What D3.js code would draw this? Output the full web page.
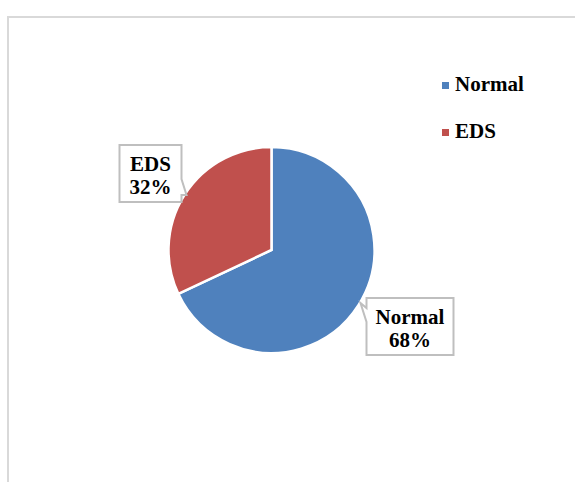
<!DOCTYPE html>
<html>
<head>
<meta charset="utf-8">
<script src="https://cdn.jsdelivr.net/npm/d3@7"></script>
<style>
  body { margin: 0; background: white; }
  text { font-family: "Liberation Serif", "Times New Roman", serif; font-weight: bold; }
</style>
</head>
<body>
<div id="chart-area"></div>
<script>
var categories = ["Normal", "EDS"];
var values = [68, 32];
var colors = ["#4f81bd", "#c0504d"];

var width = 575;
var height = 482;

var svg = d3.select("#chart-area")
  .append("svg")
  .attr("width", width)
  .attr("height", height);

// chart frame (only top and left edges show in the picture)
svg.append("path")
  .attr("d", "M8,482 V17 H575")
  .attr("fill", "none")
  .attr("stroke", "#d9d9d9")
  .attr("stroke-width", 2);

var cx = 271.5, cy = 250, radius = 103;

var data = categories.map((c, i) => ({ name: c, value: values[i], color: colors[i] }));

var pie = d3.pie()
  .sort(null)
  .value(d => d.value);

var arc = d3.arc()
  .innerRadius(0)
  .outerRadius(radius);

var g = svg.append("g")
  .attr("transform", "translate(" + cx + "," + cy + ")");

var arcs = pie(data);

g.selectAll("path.slice")
  .data(arcs)
  .enter().append("path")
  .attr("class", "slice")
  .attr("d", arc)
  .attr("fill", d => d.data.color)
  .attr("stroke", "white")
  .attr("stroke-width", 2.5);

// data labels: box with a small callout pointer
// box placement relative to pie centre
var labelBoxes = [
  { x: 95, y: 48, w: 87, h: 57, tip: [89, 53], side: "left" },
  { x: -152, y: -105, w: 62, h: 57, tip: [-85, -55], side: "right" }
];

var lg = g.selectAll("g.label")
  .data(arcs)
  .enter().append("g")
  .attr("class", "label");

lg.append("path")
  .attr("d", (d, i) => {
    var b = labelBoxes[i];
    var x0 = b.x, y0 = b.y, x1 = b.x + b.w, y1 = b.y + b.h;
    if (b.side === "left") {
      return "M" + x0 + "," + y0 + " H" + x1 + " V" + y1 + " H" + x0 +
        " V" + (y0 + 24) + " L" + b.tip[0] + "," + b.tip[1] + " L" + x0 + "," + (y0 + 10) + " Z";
    }
    return "M" + x0 + "," + y0 + " H" + x1 + " V" + (y0 + 34) +
      " L" + b.tip[0] + "," + b.tip[1] + " L" + x1 + "," + (y0 + 50) +
      " V" + y1 + " H" + x0 + " Z";
  })
  .attr("fill", "white")
  .attr("stroke", "#bfbfbf")
  .attr("stroke-width", 2);

lg.append("text")
  .attr("x", (d, i) => labelBoxes[i].x + labelBoxes[i].w / 2)
  .attr("y", (d, i) => labelBoxes[i].y + 26)
  .attr("text-anchor", "middle")
  .attr("font-size", "21px")
  .attr("fill", "black")
  .text(d => d.data.name);

lg.append("text")
  .attr("x", (d, i) => labelBoxes[i].x + labelBoxes[i].w / 2)
  .attr("y", (d, i) => labelBoxes[i].y + 49)
  .attr("text-anchor", "middle")
  .attr("font-size", "21px")
  .attr("fill", "black")
  .text(d => d.data.value + "%");

// legend
var legend = svg.selectAll("g.legend")
  .data(data)
  .enter().append("g")
  .attr("class", "legend")
  .attr("transform", (d, i) => "translate(442," + (91 + i * 47) + ")");

legend.append("rect")
  .attr("x", 0)
  .attr("y", -9)
  .attr("width", 7)
  .attr("height", 7)
  .attr("fill", d => d.color);

legend.append("text")
  .attr("x", 13)
  .attr("y", 0)
  .attr("font-size", "21px")
  .attr("fill", "black")
  .text(d => d.name);
</script>
</body>
</html>
